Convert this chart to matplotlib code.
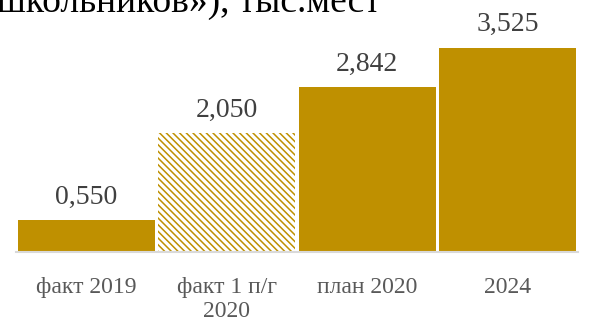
import numpy as np
import matplotlib.pyplot as plt

# data
categories = ['факт 2019', 'факт 1 п/г\n2020', 'план 2020', '2024']
values = [0.550, 2.050, 2.842, 3.525]
value_labels = ['0,550', '2,050', '2,842', '3,525']
hatched = [False, True, False, False]

gold = '#BF9000'
plt.rcParams['font.family'] = ['Liberation Serif', 'DejaVu Serif']
plt.rcParams['hatch.linewidth'] = 1.1

fig = plt.figure(figsize=(5.9, 3.24), dpi=100)
ax = fig.add_axes([16/590, 72/324, 562/590, 232/324])

x = np.arange(len(values))
for i, (v, h) in enumerate(zip(values, hatched)):
    if h:
        ax.bar(x[i], v, width=0.975, facecolor='white', edgecolor=gold,
               hatch='\\\\\\\\\\', linewidth=0)
    else:
        ax.bar(x[i], v, width=0.975, color=gold, linewidth=0)
    ax.text(x[i], v + 0.18, value_labels[i], ha='center', va='bottom',
            fontsize=20, color='#404040')

ax.set_xlim(-0.5, 3.5)
ax.set_ylim(0, 4.0)
ax.set_yticks([])
ax.set_xticks(x)
ax.set_xticklabels(categories, fontsize=17, color='#595959', linespacing=1.2)
ax.tick_params(axis='x', length=0, pad=18)
for s in ['top', 'right', 'left']:
    ax.spines[s].set_visible(False)
ax.spines['bottom'].set_color('#D9D9D9')
ax.spines['bottom'].set_linewidth(1.5)

# title, cut off at the top of the picture
fig.text(-0.005, 1 - 12/324, 'школьников»), тыс.мест', fontsize=27,
         color='black', ha='left', va='baseline')

fig.savefig('out.png', dpi=100)
